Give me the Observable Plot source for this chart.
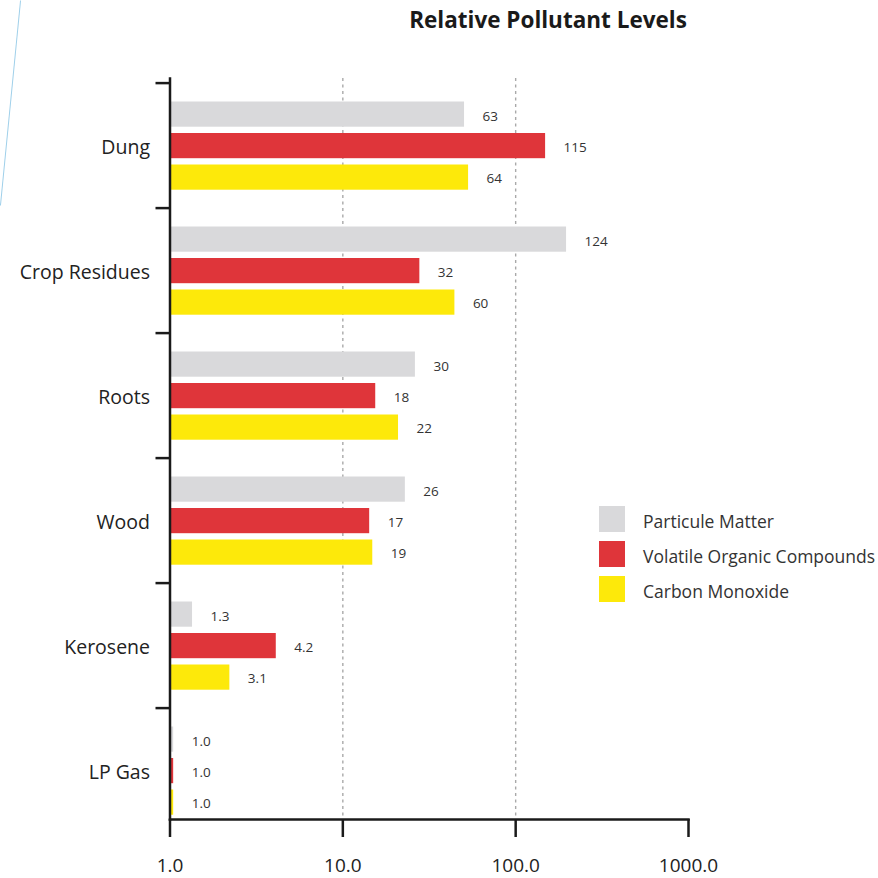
<!DOCTYPE html>
<html>
<head>
<meta charset="utf-8">
<script src="https://cdn.jsdelivr.net/npm/d3@7"></script>
<script src="https://cdn.jsdelivr.net/npm/@observablehq/plot@0.6"></script>
<style>
  body { margin: 0; background: #fff; font-family: "Open Sans", Lato, sans-serif; }
  #wrap { position: relative; width: 878px; height: 878px; overflow: hidden; background: #fff; }
  #title { height: 38px; line-height: 40px; margin-left: 218px; width: 660px; text-align: center;
           font-weight: 700; font-size: 22.5px; color: #1a1a1a; }
  #chart svg { display: block; }
  #deco { position: absolute; left: 10px; top: 0; width: 1px; height: 206px; background: #9fd0ea;
          transform: rotate(5.6deg); }
  #legend { position: absolute; left: 599px; top: 506px; }
  .item { position: relative; height: 35px; }
  .sw { position: absolute; left: 0; top: 0; width: 26px; height: 26px; }
  .lab { position: absolute; left: 44px; top: 2px; height: 26px; line-height: 26px; font-size: 17.5px; color: #333; white-space: nowrap; }
</style>
</head>
<body>
<div id="wrap">
  <div id="deco"></div>
  <div id="title">Relative Pollutant Levels</div>
  <div id="chart"></div>
  <div id="legend"></div>
</div>
<script>
// ---- data ----
const fuels = ["Dung", "Crop Residues", "Roots", "Wood", "Kerosene", "LP Gas"];
const series = ["Particule Matter", "Volatile Organic Compounds", "Carbon Monoxide"];
const colors = ["#d9d9db", "#df353a", "#fde90a"];
// bar lengths as drawn in the picture (log scale)
const pmBar  = [50.6, 197, 26.3, 23.0, 1.35, 1.05];
const vocBar = [149, 27.9, 15.5, 14.3, 4.12, 1.05];
const coBar  = [53.4, 44.5, 21.0, 14.9, 2.22, 1.05];
// printed value labels
const pmLabel  = ["63", "124", "30", "26", "1.3", "1.0"];
const vocLabel = ["115", "32", "18", "17", "4.2", "1.0"];
const coLabel  = ["64", "60", "22", "19", "3.1", "1.0"];
const xTicks = [1, 10, 100, 1000];
const gridValues = [10, 100];

// ---- build rows ----
const bars = [pmBar, vocBar, coBar];
const labels = [pmLabel, vocLabel, coLabel];
const rows = series.map((s, si) => fuels.map((f, fi) => ({fuel: f, series: s, value: bars[si][fi], label: labels[si][fi]})));

// layout (styles, not data)
const step = 125.8;
const insets = [[18.5, step - 44.5], [50, step - 76], [81.5, step - 107.5]];
const labelDy = [-29.5, 1.5, 33];
const ink = "#1a1a1a";
const font = "'Open Sans', Lato, sans-serif";

const marks = [
  Plot.ruleX(gridValues, {stroke: "#a9a9a9", strokeWidth: 1.4, strokeDasharray: "3,3.5"})
];
rows.forEach((r, si) => {
  marks.push(Plot.barX(r, {x1: 1, x2: "value", y: "fuel", fill: colors[si],
    insetTop: insets[si][0], insetBottom: insets[si][1]}));
  marks.push(Plot.text(r, {x: "value", y: "fuel", text: "label", dx: 18, dy: labelDy[si],
    textAnchor: "start", fontSize: 13.5, fill: "#333"}));
});
marks.push(
  Plot.axisY({tickSize: 0, tickPadding: 20, fontSize: 19.5, fill: "#222", dy: 2}),
  Plot.axisY({tickSize: 14, text: null, dy: -step / 2, stroke: ink, strokeWidth: 2.5}),
  Plot.axisX({ticks: xTicks, tickFormat: d => d.toFixed(1), tickSize: 18, tickPadding: 21,
    fontSize: 19, stroke: ink, fill: "#222", strokeWidth: 2.5}),
  Plot.frame({anchor: "left", stroke: ink, strokeWidth: 2.5}),
  Plot.frame({anchor: "bottom", stroke: ink, strokeWidth: 2.5})
);

const chart = Plot.plot({
  width: 878,
  height: 840,
  marginLeft: 169.5,
  marginRight: 190,
  marginTop: 40,
  marginBottom: 59,
  style: {fontFamily: font, background: "#fff"},
  x: {type: "log", domain: [1, 1000], label: null},
  y: {type: "band", domain: fuels, range: [42.5, 42.5 + step * fuels.length], padding: 0, label: null},
  marks
});
document.getElementById("chart").appendChild(chart);

// legend
const lg = document.getElementById("legend");
series.forEach((s, i) => {
  const it = document.createElement("div");
  it.className = "item";
  it.innerHTML = `<div class="sw" style="background:${colors[i]}"></div><div class="lab">${s}</div>`;
  lg.appendChild(it);
});
</script>
</body>
</html>
